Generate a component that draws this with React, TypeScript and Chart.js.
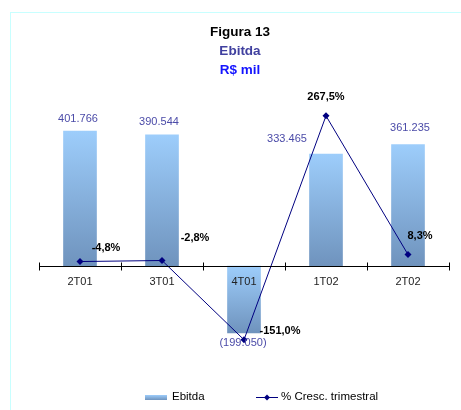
import React, { useEffect, useRef } from "react";
import { Chart, registerables } from "chart.js";

Chart.register(...registerables);

const categories = ["2T01", "3T01", "4T01", "1T02", "2T02"];
const ebitda = [401766, 390544, -199050, 333465, 361235];
const ebitdaLabels = ["401.766", "390.544", "(199.050)", "333.465", "361.235"];
const growth = [-4.8, -2.8, -151.0, 267.5, 8.3];
const growthLabels = ["-4,8%", "-2,8%", "-151,0%", "267,5%", "8,3%"];
const titleLines = ["Figura 13", "Ebitda", "R$ mil"];
const legendLabels = ["Ebitda", "% Cresc. trimestral"];

// label nudges in px (dx, dy) relative to bar end / point
const barLabelNudge = [[-2, -12], [-3, -13], [-1, 10], [-39, -15], [2, -17]];
const lineLabelNudge = [[26, -14], [33, -23], [36, -9], [0, -19], [12, -19]];

const FONT = "Arial, 'Liberation Sans', sans-serif";
const BAR_LIGHT = "#9dcdfb";
const BAR_DARK = "#6f93bd";
const LINE_COLOR = "#000080";

const overlayPlugin = {
  id: "overlay",
  afterDatasetsDraw(chart: any) {
    const ctx = chart.ctx as CanvasRenderingContext2D;
    const xs = chart.scales.x;
    const ys = chart.scales.y;
    const zero = Math.round(ys.getPixelForValue(0)) + 0.5;
    ctx.save();
    // tick marks crossing axis
    ctx.strokeStyle = "#000";
    ctx.lineWidth = 1;
    for (let i = 0; i <= categories.length; i++) {
      const x = Math.round(xs.getPixelForValue(i - 0.5)) + 0.5;
      ctx.beginPath();
      ctx.moveTo(x, zero - 4);
      ctx.lineTo(x, zero + 4);
      ctx.stroke();
    }
    // bar labels
    const barMeta = chart.getDatasetMeta(1);
    ctx.font = `11px ${FONT}`;
    ctx.fillStyle = "#4b4ba8";
    ctx.textAlign = "center";
    ctx.textBaseline = "middle";
    barMeta.data.forEach((el: any, i: number) => {
      const [dx, dy] = barLabelNudge[i];
      ctx.fillText(ebitdaLabels[i], el.x + dx, el.y + dy);
    });
    // line labels
    const lineMeta = chart.getDatasetMeta(0);
    ctx.font = `bold 11px ${FONT}`;
    ctx.fillStyle = "#000";
    lineMeta.data.forEach((el: any, i: number) => {
      const [dx, dy] = lineLabelNudge[i];
      ctx.fillText(growthLabels[i], el.x + dx, el.y + dy);
    });
    ctx.restore();
  },
  afterDraw(chart: any) {
    const ctx = chart.ctx as CanvasRenderingContext2D;
    ctx.save();
    // titles
    ctx.textAlign = "center";
    ctx.textBaseline = "middle";
    ctx.font = `bold 13.5px ${FONT}`;
    const titleColors = ["#000000", "#40409f", "#1414ff"];
    const titleY = [32, 51, 70];
    titleLines.forEach((t, i) => {
      ctx.fillStyle = titleColors[i];
      ctx.fillText(t, 240, titleY[i]);
    });
    // legend
    const ly = 397;
    const g = ctx.createLinearGradient(0, ly - 2, 0, ly + 3);
    g.addColorStop(0, BAR_LIGHT);
    g.addColorStop(1, BAR_DARK);
    ctx.fillStyle = g;
    ctx.fillRect(145, ly - 2, 22, 5);
    ctx.font = `11.5px ${FONT}`;
    ctx.fillStyle = "#000";
    ctx.textAlign = "left";
    ctx.fillText(legendLabels[0], 172, ly);
    ctx.strokeStyle = LINE_COLOR;
    ctx.lineWidth = 1;
    ctx.beginPath();
    ctx.moveTo(256, ly + 0.5);
    ctx.lineTo(278, ly + 0.5);
    ctx.stroke();
    ctx.fillStyle = LINE_COLOR;
    ctx.beginPath();
    ctx.moveTo(267, ly + 0.5 - 3);
    ctx.lineTo(270, ly + 0.5);
    ctx.lineTo(267, ly + 0.5 + 3);
    ctx.lineTo(264, ly + 0.5);
    ctx.closePath();
    ctx.fill();
    ctx.fillStyle = "#000";
    ctx.fillText(legendLabels[1], 281, ly);
    ctx.restore();
  },
};

export default function App() {
  const ref = useRef<HTMLCanvasElement | null>(null);
  useEffect(() => {
    if (!ref.current) return;
    const chart = new Chart(ref.current, {
      type: "bar",
      data: {
        labels: categories,
        datasets: [
          {
            type: "line",
            label: legendLabels[1],
            data: growth,
            yAxisID: "y2",
            borderColor: LINE_COLOR,
            backgroundColor: LINE_COLOR,
            borderWidth: 1,
            pointStyle: "rectRot",
            pointRadius: 3.5,
            pointBorderWidth: 0,
            pointBackgroundColor: LINE_COLOR,
            tension: 0,
            order: 0,
          } as any,
          {
            type: "bar",
            label: legendLabels[0],
            data: ebitda,
            yAxisID: "y",
            barThickness: 33,
            borderWidth: 0,
            backgroundColor: (c: any) => {
              const ch = c.chart;
              if (!ch.chartArea || c.type !== "data") return BAR_LIGHT;
              const y = ch.scales.y;
              const p0 = y.getPixelForValue(0);
              const p1 = y.getPixelForValue(c.raw as number);
              const top = Math.min(p0, p1);
              const bot = Math.max(p0, p1);
              const gr = ch.ctx.createLinearGradient(0, top, 0, bot);
              gr.addColorStop(0, BAR_LIGHT);
              gr.addColorStop(1, BAR_DARK);
              return gr;
            },
            order: 1,
          } as any,
        ],
      },
      options: {
        responsive: false,
        animation: false,
        devicePixelRatio: 1,
        layout: { padding: { left: 39, right: 12, top: 89.6, bottom: 60 } },
        plugins: {
          legend: { display: false },
          title: { display: false },
          tooltip: { enabled: false },
        },
        scales: {
          x: {
            position: { y: 0 } as any,
            grid: { display: false, drawTicks: false },
            border: { display: true, color: "#000", width: 1, z: 1 } as any,
            ticks: {
              color: "#222",
              font: { family: FONT, size: 11 },
              padding: 9,
              maxRotation: 0,
              z: 1,
            } as any,
          },
          y: {
            display: false,
            min: -250000,
            max: 525000,
          },
          y2: {
            display: false,
            min: -170.1,
            max: 316.6,
          },
        },
      },
      plugins: [overlayPlugin],
    });
    return () => chart.destroy();
  }, []);

  return (
    <div style={{ position: "absolute", left: 0, top: 0, width: 461, height: 410, background: "#fff", overflow: "hidden" }}>
      <div
        style={{
          position: "absolute",
          left: 10,
          top: 12,
          width: 470,
          height: 420,
          borderLeft: "1.5px solid #c8ffff",
          borderTop: "1.5px solid #c8ffff",
        }}
      />
      <canvas ref={ref} width={461} height={410} style={{ position: "absolute", left: 0, top: 0 }} />
    </div>
  );
}
